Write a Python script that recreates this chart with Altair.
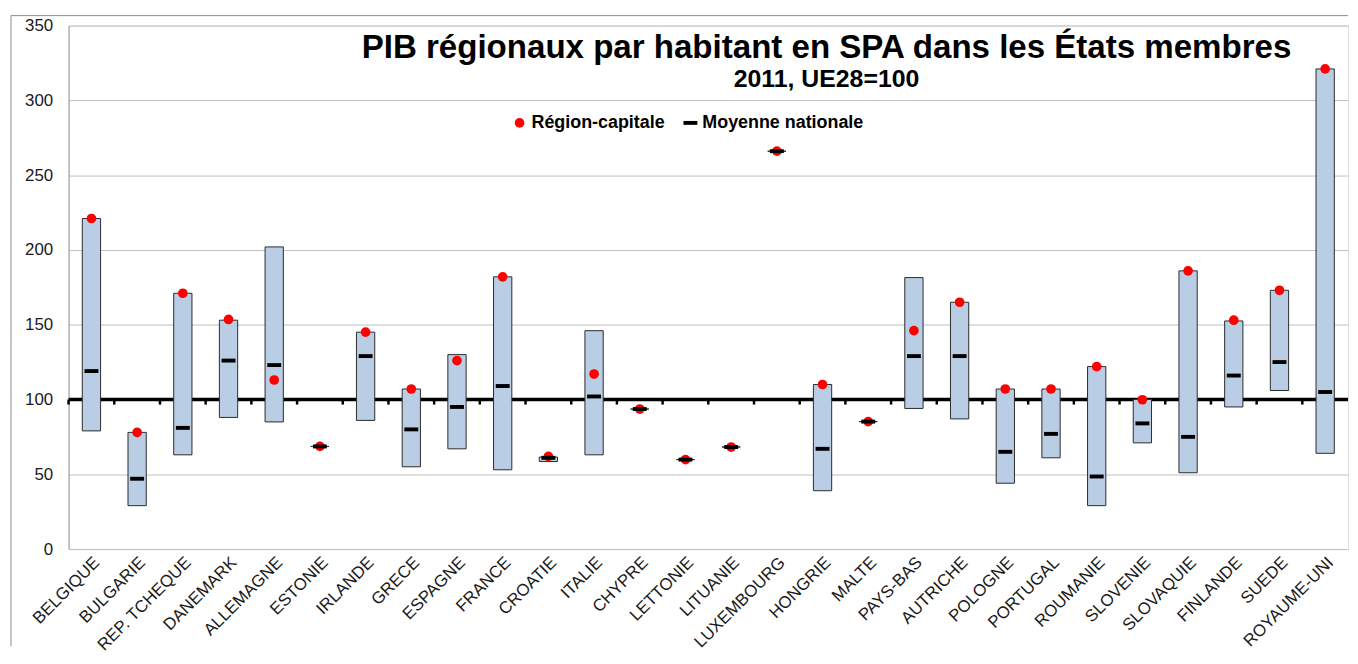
import altair as alt
import pandas as pd

FONT = "Liberation Sans"

titre = "PIB régionaux par habitant en SPA dans les États membres"
sous_titre = "2011, UE28=100"

pays = ["BELGIQUE", "BULGARIE", "REP. TCHEQUE", "DANEMARK", "ALLEMAGNE", "ESTONIE",
        "IRLANDE", "GRECE", "ESPAGNE", "FRANCE", "CROATIE", "ITALIE", "CHYPRE",
        "LETTONIE", "LITUANIE", "LUXEMBOURG", "HONGRIE", "MALTE", "PAYS-BAS",
        "AUTRICHE", "POLOGNE", "PORTUGAL", "ROUMANIE", "SLOVENIE", "SLOVAQUIE",
        "FINLANDE", "SUEDE", "ROYAUME-UNI"]
region_min = [79, 29, 63, 88, 85, 68.6, 86, 55, 67, 53, 58.5, 63, 93.6, 59.8, 68.2,
              266, 39, 85.2, 94, 87, 44, 61, 29, 71, 51, 95, 106, 64]
region_max = [221, 78, 171, 153, 202, 68.6, 145, 107, 130, 182, 61.5, 146, 93.6, 59.8, 68.2,
              266, 110, 85.2, 181.5, 165, 107, 107, 122, 100, 186, 152.5, 173, 321]
capitale = [221, 78, 171, 153.5, 113, 68.6, 145, 107, 126, 182, 62, 117, 93.6, 59.8, 68.2,
            266, 110, 85.2, 146, 165, 107, 107, 122, 99.8, 186, 153, 173, 321]
moyenne = [119, 47, 81, 126, 123, 68.6, 129, 80, 95, 109, 61, 102, 93.6, 59.8, 68.2,
           266, 67, 85.2, 129, 129, 65, 77, 48.5, 84, 75, 116, 125, 105]

series = ["Région-capitale", "Moyenne nationale"]
y_ticks = [0, 50, 100, 150, 200, 250, 300, 350]

df_bars = pd.DataFrame({"pays": pays, "min": region_min, "max": region_max})
df_pts = pd.concat([
    pd.DataFrame({"pays": pays, "serie": series[0], "valeur": capitale, "ordre": 0}),
    pd.DataFrame({"pays": pays, "serie": series[1], "valeur": moyenne, "ordre": 1}),
], ignore_index=True)

W, H = 1288, 527
DASH = "M-1,-0.28H1V0.28H-1Z"

x_scale = alt.Scale(domain=pays, paddingInner=0, paddingOuter=0)
y_scale = alt.Scale(domain=[0, 350], nice=False)

x_axis = alt.Axis(title=None, labelAngle=-45, labelFontSize=17, labelFont=FONT,
                  labelColor="#1a1a1a", ticks=False, domain=False, labelPadding=5,
                  grid=False)
y_axis = alt.Axis(title=None, values=y_ticks, labelFontSize=17, labelFont=FONT,
                  labelColor="#1a1a1a", ticks=False, domain=True, domainColor="#999999",
                  grid=True, gridColor="#BFBFBF", gridWidth=1, labelPadding=16)

X = alt.X("pays:N", sort=pays, scale=x_scale, axis=x_axis)

ligne100 = alt.Chart(pd.DataFrame({"v": [100]})).mark_rule(
    color="black", strokeWidth=3.5).encode(
    y=alt.Y("v:Q", scale=y_scale, axis=y_axis))

graduations = alt.Chart(df_bars).mark_rule(color="black", strokeWidth=2.5).encode(
    x=alt.X("pays:N", sort=pays, scale=x_scale, axis=x_axis, bandPosition=0),
    y=alt.datum(100),
    y2=alt.datum(96.6),
)

barres = alt.Chart(df_bars).mark_bar(
    fill="#B9CDE5", stroke="#2b2b2b", strokeWidth=1,
    width=alt.RelativeBandSize(0.4)).encode(
    x=X,
    y=alt.Y("min:Q", scale=y_scale, axis=y_axis),
    y2="max:Q",
)

leg = alt.Legend(orient="none", legendX=445, legendY=89, direction="horizontal",
                 title=None, labelFont=FONT, labelFontSize=18, labelFontWeight="bold",
                 labelColor="#000000", symbolSize=100, columnPadding=16, labelOffset=3,
                 symbolStrokeWidth=0, labelLimit=0)

points = alt.Chart(df_pts).mark_point(filled=True, opacity=1, strokeWidth=0).encode(
    x=X,
    y=alt.Y("valeur:Q", scale=y_scale, axis=y_axis),
    color=alt.Color("serie:N", scale=alt.Scale(domain=series, range=["#FF0000", "#000000"]),
                    legend=leg),
    shape=alt.Shape("serie:N", scale=alt.Scale(domain=series, range=["circle", DASH]),
                    legend=leg),
    size=alt.Size("serie:N", scale=alt.Scale(domain=series, range=[95, 196]), legend=None),
    order=alt.Order("ordre:Q"),
)

t1 = alt.Chart(pd.DataFrame({"t": [titre]})).mark_text(
    font=FONT, fontSize=33.3, fontWeight="bold", align="center", baseline="alphabetic",
    color="black").encode(text="t:N", x=alt.value(763), y=alt.value(33))
t2 = alt.Chart(pd.DataFrame({"t": [sous_titre]})).mark_text(
    font=FONT, fontSize=25, fontWeight="bold", align="center", baseline="alphabetic",
    color="black").encode(text="t:N", x=alt.value(763), y=alt.value(62))

cadre_h = alt.Chart(pd.DataFrame({"a": [0]})).mark_rule(color="#8c8c8c", strokeWidth=1).encode(
    x=alt.value(-58), x2=alt.value(1288), y=alt.value(-10))
cadre_v = alt.Chart(pd.DataFrame({"a": [0]})).mark_rule(color="#8c8c8c", strokeWidth=1).encode(
    x=alt.value(-58), y=alt.value(-10), y2=alt.value(625))

chart = alt.layer(
    cadre_h, cadre_v, ligne100, graduations, barres, points, t1, t2
).properties(
    width=W, height=H,
    padding={"left": 2, "top": 4.5, "right": 0, "bottom": 0},
).configure_view(stroke=None).configure(font=FONT)

chart.save("out.html", embed_options={"renderer": "svg", "actions": False})
